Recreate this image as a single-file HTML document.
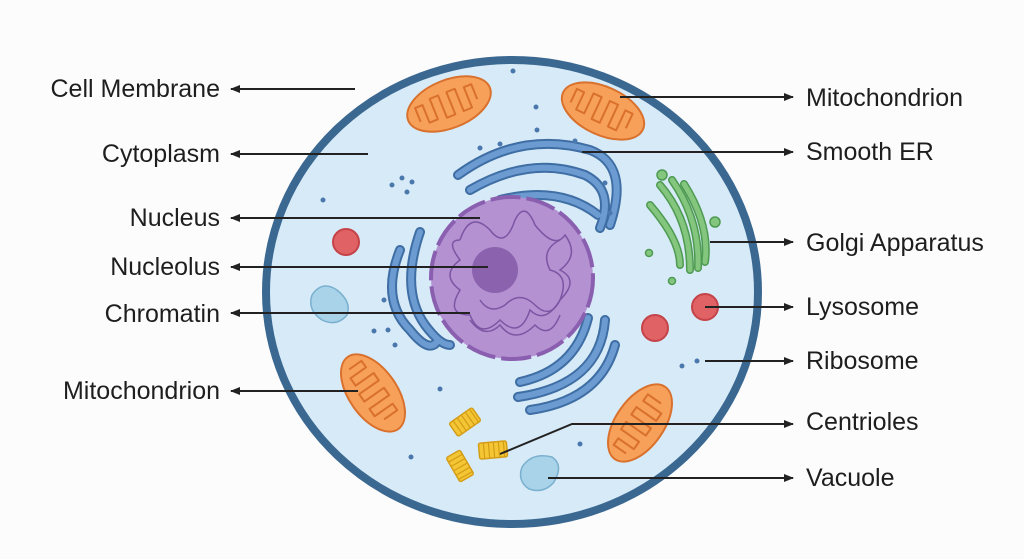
<!DOCTYPE html>
<html><head><meta charset="utf-8"><style>
html,body{margin:0;padding:0;background:#fcfcfc;}
svg{display:block}
text{font-family:"Liberation Sans",sans-serif;font-size:25px;fill:#1e1e1e}
</style></head><body>
<svg width="1024" height="559" viewBox="0 0 1024 559" xmlns="http://www.w3.org/2000/svg">
<defs>
<marker id="ah" markerWidth="10" markerHeight="8" refX="9" refY="4" orient="auto" markerUnits="userSpaceOnUse">
<path d="M0,0 L10,4 L0,8 Z" fill="#222"/></marker>
<g id="mito">
<ellipse cx="0" cy="0" rx="44" ry="24" fill="#f6a05a" stroke="#d9702c" stroke-width="2"/>
<path d="M-33,6 L-33,-9 L-25,-9 L-25,10 L-16,10 L-16,-12 L-7,-12 L-7,12 L2,12 L2,-12 L11,-12 L11,12 L20,12 L20,-10 L28,-10 L28,6" fill="none" stroke="#d9702c" stroke-width="2" stroke-linejoin="round"/>
</g>
<g id="cent">
<rect x="-14" y="-8" width="28" height="16" rx="2" fill="#f4c634" stroke="#d49d18" stroke-width="1.5"/>
<path d="M-9,-8V8M-4,-8V8M1,-8V8M6,-8V8M11,-8V8" stroke="#d49d18" stroke-width="1.2"/>
</g>
</defs>
<ellipse cx="512" cy="292" rx="246" ry="232" fill="#d7eaf7" stroke="#3b6891" stroke-width="8"/>
<g fill="none" stroke-linecap="round">
<g stroke="#3f6ea4" stroke-width="10">
<path d="M458,175 Q520,130 590,150 Q630,165 610,225"/>
<path d="M470,190 Q530,155 585,175 Q615,190 600,228"/>
<path d="M500,200 Q560,185 598,215"/>
<path d="M400,250 Q380,300 410,330 Q430,355 438,340"/>
<path d="M420,232 Q400,290 425,325 Q440,345 450,345"/>
<path d="M588,318 Q575,370 520,382"/>
<path d="M605,320 Q600,385 518,397"/>
<path d="M615,345 Q600,400 530,410"/>
</g>
<g stroke="#6b9bd1" stroke-width="6">
<path d="M458,175 Q520,130 590,150 Q630,165 610,225"/>
<path d="M470,190 Q530,155 585,175 Q615,190 600,228"/>
<path d="M500,200 Q560,185 598,215"/>
<path d="M400,250 Q380,300 410,330 Q430,355 438,340"/>
<path d="M420,232 Q400,290 425,325 Q440,345 450,345"/>
<path d="M588,318 Q575,370 520,382"/>
<path d="M605,320 Q600,385 518,397"/>
<path d="M615,345 Q600,400 530,410"/>
</g>
</g>
<g fill="#4a78ad">
<circle cx="480" cy="148" r="2.5"/><circle cx="500" cy="144" r="2.5"/><circle cx="537" cy="130" r="2.5"/><circle cx="575" cy="141" r="2.5"/><circle cx="605" cy="183" r="2.5"/><circle cx="610" cy="213" r="2.5"/>
<circle cx="384" cy="300" r="2.5"/><circle cx="388" cy="330" r="2.5"/><circle cx="395" cy="345" r="2.5"/>
</g>
<circle cx="512" cy="278" r="81" fill="#b491d1" stroke="#8a5fb0" stroke-width="4" stroke-dasharray="30 6"/>
<g fill="none" stroke="#7c55a3" stroke-width="1.5">
<path d="M460,240 q10,-30 30,-10 q15,20 25,-10 q10,-20 20,5 q20,25 30,10 q15,20 -5,35 q20,10 0,30 q-15,25 -30,10 q-10,30 -30,10 q-20,20 -30,-5 q-25,0 -10,-25 q-20,-15 0,-30 q-15,-20 0,-20"/>
<path d="M480,300 q10,15 25,5 q15,-15 30,0 q15,15 25,-5 q10,-25 -10,-30 q-10,-20 10,-30"/>
<path d="M470,320 q15,20 30,5 q15,20 35,0 q15,15 25,-10"/>
</g>
<circle cx="495" cy="270" r="23" fill="#8a62ad"/>
<use href="#mito" transform="translate(449,104) rotate(-22)"/>
<use href="#mito" transform="translate(603,111) rotate(25)"/>
<use href="#mito" transform="translate(373,393) rotate(55)"/>
<use href="#mito" transform="translate(640,423) rotate(-55)"/>
<g fill="none" stroke="#4e9a52" stroke-width="8" stroke-linecap="round">
<path d="M650,205 Q680,240 680,265"/>
<path d="M660,185 Q690,220 690,270"/>
<path d="M672,180 Q700,220 698,268"/>
<path d="M684,184 Q710,225 705,262"/>
</g>
<g fill="none" stroke="#84c67e" stroke-width="5" stroke-linecap="round">
<path d="M650,205 Q680,240 680,265"/>
<path d="M660,185 Q690,220 690,270"/>
<path d="M672,180 Q700,220 698,268"/>
<path d="M684,184 Q710,225 705,262"/>
</g>
<g fill="#84c67e" stroke="#4e9a52" stroke-width="1.5">
<circle cx="662" cy="175" r="5"/><circle cx="715" cy="222" r="5"/><circle cx="649" cy="253" r="3.5"/><circle cx="672" cy="281" r="3.5"/>
</g>
<g fill="#e06265" stroke="#c44449" stroke-width="2">
<circle cx="346" cy="242" r="13"/><circle cx="705" cy="307" r="13"/><circle cx="655" cy="328" r="13"/>
</g>
<path d="M312,295 q10,-15 25,-5 q15,12 10,25 q-10,12 -25,5 q-15,-10 -10,-25z" fill="#a8d3e8" stroke="#7ab0cf" stroke-width="1.5"/>
<path d="M522,467 q10,-15 30,-10 q12,8 2,25 q-10,12 -25,7 q-12,-8 -7,-22z" fill="#a8d3e8" stroke="#7ab0cf" stroke-width="1.5"/>
<use href="#cent" transform="translate(465,422) rotate(-35)"/>
<use href="#cent" transform="translate(493,450) rotate(-5)"/>
<use href="#cent" transform="translate(460,466) rotate(60)"/>
<g fill="#4a78ad">
<circle cx="513" cy="71" r="2.5"/><circle cx="536" cy="107" r="2.5"/><circle cx="392" cy="185" r="2.5"/><circle cx="402" cy="178" r="2.5"/><circle cx="412" cy="182" r="2.5"/><circle cx="407" cy="192" r="2.5"/><circle cx="323" cy="200" r="2.5"/><circle cx="374" cy="331" r="2.5"/><circle cx="440" cy="389" r="2.5"/><circle cx="411" cy="457" r="2.5"/><circle cx="580" cy="444" r="2.5"/><circle cx="682" cy="366" r="2.5"/><circle cx="697" cy="361" r="2.5"/>
</g>
<g stroke="#222" stroke-width="2" fill="none" marker-end="url(#ah)">
<path d="M355,89 H231"/>
<path d="M368,154 H231"/>
<path d="M480,218 H231"/>
<path d="M488,267 H231"/>
<path d="M470,313 H231"/>
<path d="M358,391 H231"/>
<path d="M620,97 H793"/>
<path d="M582,152 H793"/>
<path d="M710,242 H793"/>
<path d="M705,307 H793"/>
<path d="M705,361 H793"/>
<path d="M500,454 L572,424 H793"/>
<path d="M548,478 H793"/>
</g>
<g text-anchor="end">
<text x="220" y="97">Cell Membrane</text>
<text x="220" y="162">Cytoplasm</text>
<text x="220" y="226">Nucleus</text>
<text x="220" y="275">Nucleolus</text>
<text x="220" y="322">Chromatin</text>
<text x="220" y="399">Mitochondrion</text>
</g>
<text x="806" y="106">Mitochondrion</text>
<text x="806" y="160">Smooth ER</text>
<text x="806" y="251">Golgi Apparatus</text>
<text x="806" y="315">Lysosome</text>
<text x="806" y="369">Ribosome</text>
<text x="806" y="430">Centrioles</text>
<text x="806" y="486">Vacuole</text>
</svg>
</body></html>
